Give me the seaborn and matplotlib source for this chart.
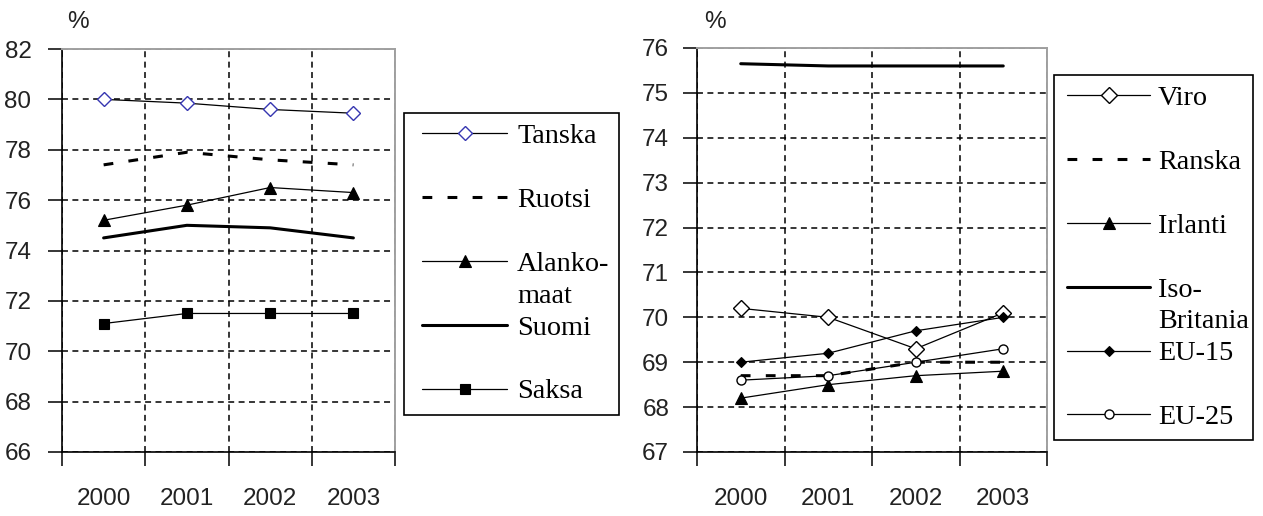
import numpy as np
import pandas as pd
import matplotlib
matplotlib.use("Agg")
import matplotlib.pyplot as plt
import seaborn as sns
from matplotlib.lines import Line2D
from matplotlib.legend_handler import HandlerLine2D
from matplotlib.ticker import FixedLocator

# ---------------- data ----------------
YEARS = ["2000", "2001", "2002", "2003"]

# left panel
TANSKA = [80.0, 79.85, 79.6, 79.45]
RUOTSI = [77.4, 77.9, 77.6, 77.4]
ALANKOMAAT = [75.2, 75.8, 76.5, 76.3]
SUOMI = [74.5, 75.0, 74.9, 74.5]
SAKSA = [71.1, 71.5, 71.5, 71.5]

# right panel
VIRO = [70.2, 70.0, 69.3, 70.1]
RANSKA = [68.7, 68.7, 69.0, 69.0]
IRLANTI = [68.2, 68.5, 68.7, 68.8]
ISO_BRITANNIA = [75.65, 75.6, 75.6, 75.6]
EU15 = [69.0, 69.2, 69.7, 70.0]
EU25 = [68.6, 68.7, 69.0, 69.3]

LEFT_SERIES = ["Tanska", "Ruotsi", "Alanko-\nmaat", "Suomi", "Saksa"]
LEFT_VALUES = [TANSKA, RUOTSI, ALANKOMAAT, SUOMI, SAKSA]
RIGHT_SERIES = ["Viro", "Ranska", "Irlanti", "Iso-\nBritania", "EU-15", "EU-25"]
RIGHT_VALUES = [VIRO, RANSKA, IRLANTI, ISO_BRITANNIA, EU15, EU25]

LEFT_YTICKS = list(range(66, 83, 2))
RIGHT_YTICKS = list(range(67, 77))

# ---------------- styles ----------------
THIN = 0.9
THICK = 2.2
DASH = (0, (3.2, 5.0))
STYLE = {
    "Tanska": dict(color="black", linewidth=THIN, marker="D", markersize=7.5,
                   markerfacecolor="white", markeredgecolor="#3535b0", markeredgewidth=1.0),
    "Ruotsi": dict(color="black", linewidth=THICK, linestyle=DASH, marker=None),
    "Alanko-\nmaat": dict(color="black", linewidth=THIN, marker="^", markersize=8.5,
                          markerfacecolor="black", markeredgecolor="black", markeredgewidth=0.8),
    "Suomi": dict(color="black", linewidth=THICK, marker=None),
    "Saksa": dict(color="black", linewidth=THIN, marker="s", markersize=7.5,
                  markerfacecolor="black", markeredgecolor="black", markeredgewidth=0.8),
    "Viro": dict(color="black", linewidth=THIN, marker="D", markersize=7.8,
                 markerfacecolor="white", markeredgecolor="black", markeredgewidth=1.0),
    "Ranska": dict(color="black", linewidth=THICK, linestyle=DASH, marker=None),
    "Irlanti": dict(color="black", linewidth=THIN, marker="^", markersize=8.5,
                    markerfacecolor="black", markeredgecolor="black", markeredgewidth=0.8),
    "Iso-\nBritania": dict(color="black", linewidth=THICK, marker=None),
    "EU-15": dict(color="black", linewidth=THIN, marker="D", markersize=5.5,
                  markerfacecolor="black", markeredgecolor="black", markeredgewidth=0.8),
    "EU-25": dict(color="black", linewidth=THIN, marker="o", markersize=6.5,
                  markerfacecolor="white", markeredgecolor="black", markeredgewidth=1.0),
}

sns.set_theme(style="white")
plt.rcParams["font.family"] = ["Liberation Sans", "DejaVu Sans"]
plt.rcParams["axes.facecolor"] = "white"
plt.rcParams["figure.facecolor"] = "white"

W, H = 1263, 516
fig = plt.figure(figsize=(W / 100, H / 100), dpi=100)
axL = fig.add_axes([62 / W, 1 - 452 / H, 333 / W, 403 / H])
axR = fig.add_axes([697 / W, 1 - 452 / H, 350 / W, 404 / H])

TICK_FS = 17.5
LEG_FS = 20.3
GRID_KW = dict(color="black", linewidth=1.1, linestyle=(0, (3.9, 2.9)))


def draw_panel(ax, names, values, yticks, ypad, pct_off):
    pos = np.arange(len(YEARS))
    df = pd.DataFrame({
        "pos": np.tile(pos, len(names)),
        "value": np.concatenate([np.asarray(v, float) for v in values]),
        "series": np.repeat(names, len(YEARS)),
    })
    handles = []
    for name in names:
        sub = df[df["series"] == name]
        sns.lineplot(data=sub, x="pos", y="value", ax=ax, legend=False,
                     estimator=None, sort=False, **STYLE[name])
        handles.append(ax.lines[-1])

    ax.set_xlim(-0.5, len(YEARS) - 0.5)
    ax.set_ylim(yticks[0], yticks[-1])
    ax.set_yticks(yticks)
    ax.set_xticks(pos)
    ax.set_xticklabels(YEARS)
    ax.xaxis.set_minor_locator(FixedLocator(np.arange(len(YEARS) + 1) - 0.5))
    ax.set_xlabel("")
    ax.set_ylabel("")

    ax.tick_params(axis="x", which="major", bottom=True, length=0, pad=26,
                   labelsize=TICK_FS, labelcolor="#222222")
    ax.tick_params(axis="x", which="minor", bottom=True, length=10, width=1.1,
                   direction="out", color="black")
    ax.tick_params(axis="y", which="major", left=True, length=10, width=1.1,
                   direction="out", color="black", pad=ypad,
                   labelsize=TICK_FS, labelcolor="#222222")

    ax.grid(False)
    ax.grid(True, axis="x", which="minor", **GRID_KW)
    ax.grid(True, axis="y", which="major", **GRID_KW)
    ax.set_axisbelow(True)

    for s in ("left", "bottom"):
        ax.spines[s].set_color("black")
        ax.spines[s].set_linewidth(1.2)
    for s in ("top", "right"):
        ax.spines[s].set_color("#a0a0a0")
        ax.spines[s].set_linewidth(1.4)
        ax.spines[s].set_visible(True)
    for s in ax.spines.values():
        s.set_zorder(2.6)

    ax.annotate("%", xy=(0, 1), xycoords="axes fraction", xytext=pct_off,
                textcoords="offset pixels", ha="center", va="center",
                fontsize=TICK_FS, color="#222222")
    return handles


def build_legend(handles, names, box_px, xpad_px, hlen_px, htpad_px):
    rows_h, rows_l = [], []
    blank = Line2D([], [], linestyle="none", marker=None)
    for i, (h, name) in enumerate(zip(handles, names)):
        parts = name.split("\n")
        rows_h.append(h)
        rows_l.append(parts[0])
        if len(parts) > 1:
            rows_h.append(blank)
            rows_l.append(parts[1])
        elif i < len(names) - 1:
            rows_h.append(blank)
            rows_l.append(" ")
    x0, y0, x1, y1 = box_px
    fs_px = LEG_FS * 100 / 72
    leg = fig.legend(
        rows_h, rows_l, loc="upper left",
        bbox_to_anchor=(x0 / W, 1 - y1 / H, (x1 - x0) / W, (y1 - y0) / H),
        bbox_transform=fig.transFigure, mode="expand", borderaxespad=0,
        prop={"family": ["Liberation Serif", "DejaVu Serif"], "size": LEG_FS},
        frameon=True, fancybox=False, shadow=False, framealpha=1,
        edgecolor="black", borderpad=0.36, labelspacing=0.22,
        handlelength=(hlen_px + xpad_px) / fs_px,
        handletextpad=htpad_px / fs_px, handleheight=0.7,
        handler_map={Line2D: HandlerLine2D(xpad=xpad_px / fs_px)},
    )
    leg.get_frame().set_linewidth(1.2)
    for t in leg.get_texts():
        t.set_color("black")
    return leg


hL = draw_panel(axL, LEFT_SERIES, LEFT_VALUES, LEFT_YTICKS, 12, (16, 27))
hR = draw_panel(axR, RIGHT_SERIES, RIGHT_VALUES, RIGHT_YTICKS, 10, (18, 26))

build_legend(hL, LEFT_SERIES, (404, 113, 619, 413), 8, 85, 10)
build_legend(hR, RIGHT_SERIES, (1054, 75, 1253, 443), 3, 83, 8)

fig.savefig("out.png", dpi=100, facecolor="white")
